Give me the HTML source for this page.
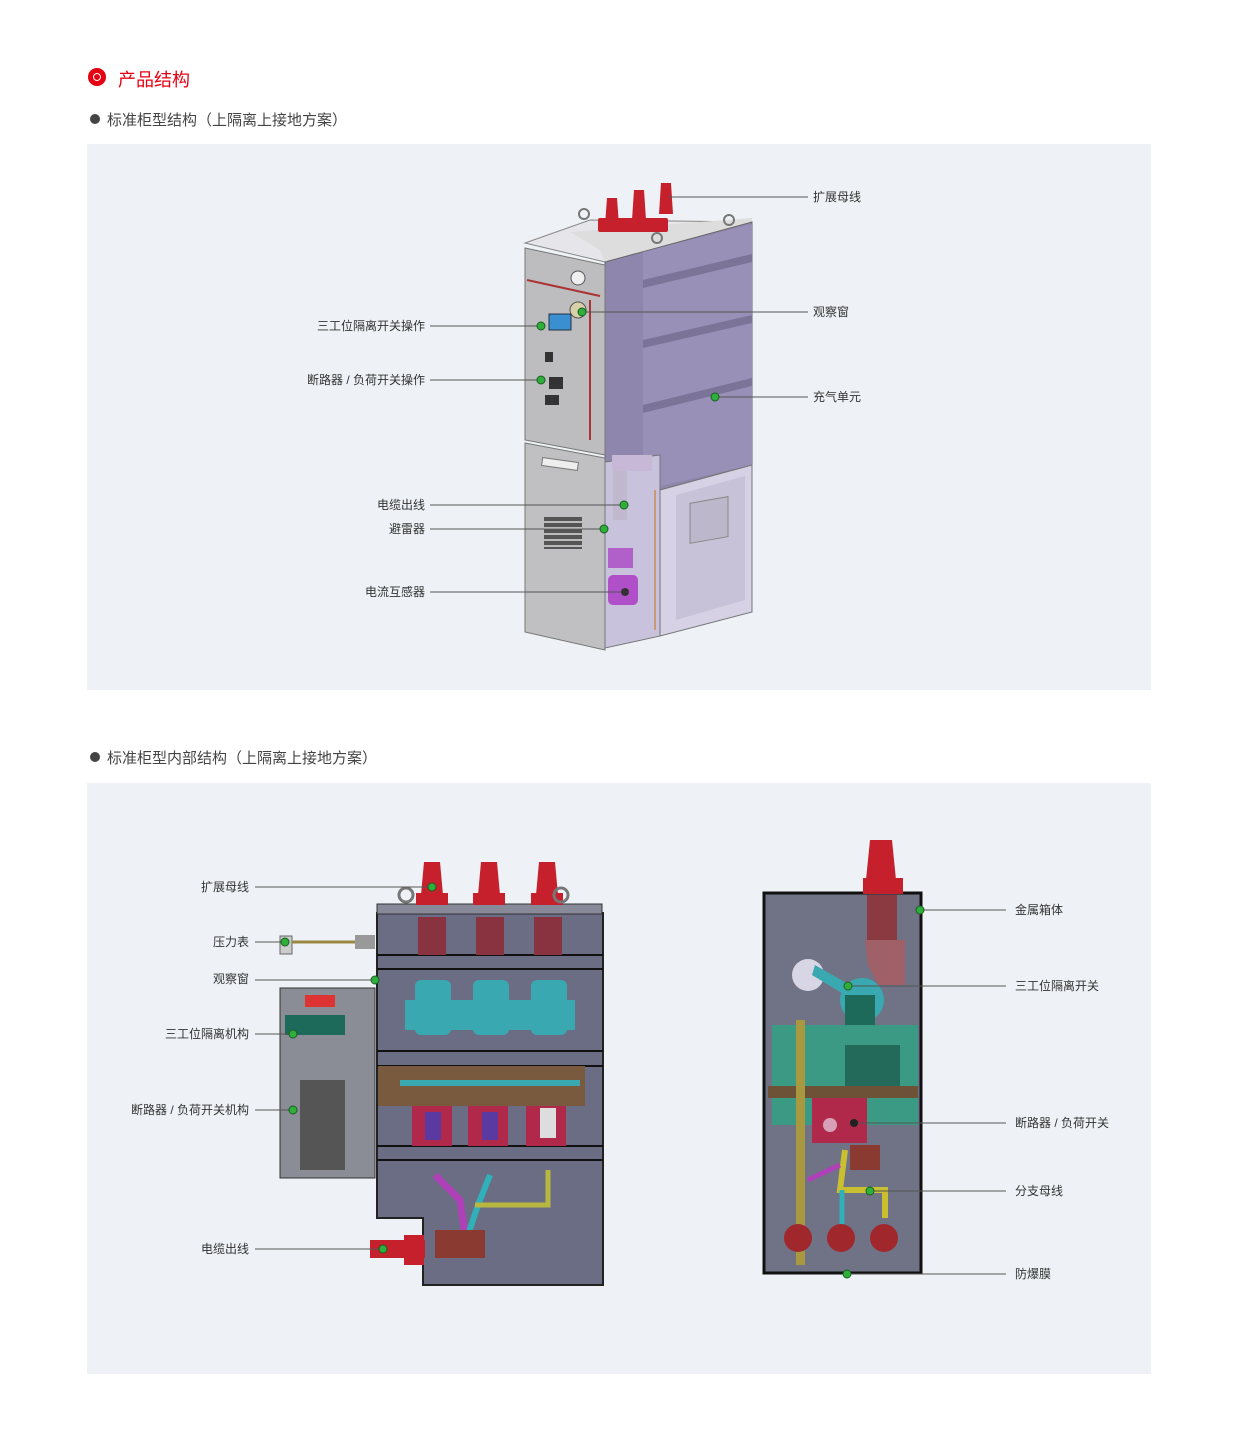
<!DOCTYPE html>
<html><head><meta charset="utf-8"><style>
html,body{margin:0;padding:0;background:#fff;}
body{width:1240px;height:1456px;position:relative;overflow:hidden;font-family:"Liberation Sans","Noto Sans CJK SC",sans-serif;}
.t{position:absolute;white-space:nowrap;}
.panel{position:absolute;background:#eef2f6;}
.lb{position:absolute;font-size:12px;color:#333;white-space:nowrap;line-height:14px;}
svg{position:absolute;left:0;top:0;}
</style></head><body>
<div class="t" style="left:88px;top:68px;width:18px;height:18px;border-radius:50%;background:#e50012;"></div>
<div class="t" style="left:93px;top:73px;width:8px;height:8px;border-radius:50%;border:1.5px solid #fff;box-sizing:border-box;"></div>
<div class="t" style="left:118px;top:66px;font-size:18px;color:#e50012;">产品结构</div>
<div class="t" style="left:90px;top:114px;width:10px;height:10px;border-radius:50%;background:#444;"></div>
<div class="t" style="left:107px;top:109px;font-size:15px;color:#444;">标准柜型结构（上隔离上接地方案）</div>
<div class="panel" style="left:87px;top:144px;width:1064px;height:546px;"></div>
<div class="t" style="left:90px;top:752px;width:10px;height:10px;border-radius:50%;background:#444;"></div>
<div class="t" style="left:107px;top:747px;font-size:15px;color:#444;">标准柜型内部结构（上隔离上接地方案）</div>
<div class="panel" style="left:87px;top:783px;width:1064px;height:591px;"></div>

<svg width="1240" height="1456" viewBox="0 0 1240 1456">
<!-- TOP CABINET -->
<polygon points="525,243 590,220 752,222 605,262" fill="#e6e6ea" stroke="#888" stroke-width="1"/>
<polygon points="570,232 752,218 752,226 605,262 600,250" fill="#ddd" />
<polygon points="605,262 752,222 752,465 660,490 660,455 605,462" fill="#8f86ad" stroke="#666" stroke-width="1"/>
<polygon points="643,252 752,224 752,465 643,490" fill="#9890b6"/>
<polygon points="643,280 752,254 752,262 643,288" fill="#7c7399"/>
<polygon points="643,340 752,315 752,323 643,348" fill="#7c7399"/>
<polygon points="643,405 752,378 752,386 643,413" fill="#7c7399"/>
<polygon points="605,462 660,455 660,636 605,648" fill="#c9c2dc" stroke="#777"/>
<polygon points="660,490 752,465 752,612 660,636" fill="#d6d1e4" stroke="#777"/>
<polygon points="676,495 745,476 745,600 676,620" fill="#c8c2d8"/>
<rect x="690" y="500" width="38" height="40" fill="#bdb7cc" stroke="#888" transform="skewY(-10) translate(0,125)"/>
<polygon points="525,248 605,265 605,455 525,440" fill="#bdbdc0" stroke="#777"/>
<polygon points="525,443 605,458 605,650 525,632" fill="#c0c0c2" stroke="#777"/>
<line x1="527" y1="280" x2="600" y2="296" stroke="#a33" stroke-width="2"/>
<line x1="590" y1="300" x2="590" y2="440" stroke="#a33" stroke-width="2"/>
<circle cx="578" cy="278" r="7" fill="#eee" stroke="#555"/>
<circle cx="578" cy="310" r="8" fill="#d8d0a8" stroke="#555"/>
<rect x="549" y="314" width="22" height="16" fill="#3a8fd0" stroke="#234"/>
<rect x="545" y="352" width="8" height="10" fill="#333"/>
<rect x="549" y="377" width="14" height="12" fill="#333"/>
<rect x="545" y="395" width="14" height="10" fill="#333"/>
<rect x="542" y="460" width="36" height="8" fill="#eee" stroke="#777" transform="rotate(8 560 464)"/>
<rect x="544" y="517" width="38" height="32" fill="#555"/>
<g stroke="#ddd" stroke-width="1.5"><line x1="544" y1="522" x2="582" y2="522"/><line x1="544" y1="528" x2="582" y2="528"/><line x1="544" y1="534" x2="582" y2="534"/><line x1="544" y1="540" x2="582" y2="540"/><line x1="544" y1="546" x2="582" y2="546"/></g>
<rect x="613" y="470" width="14" height="50" fill="#c0b8cc"/>
<rect x="612" y="455" width="40" height="16" fill="#c8b8d8"/>
<rect x="608" y="575" width="30" height="30" fill="#b050c8" rx="5"/>
<rect x="608" y="548" width="25" height="20" fill="#b060c8"/>
<line x1="655" y1="490" x2="655" y2="630" stroke="#c97" stroke-width="2"/>
<!-- insulators -->
<g fill="#c6202c"><rect x="598" y="218" width="70" height="14" rx="2"/>
<polygon points="607,198 617,198 619,225 605,225"/><polygon points="634,190 644,190 646,220 632,220"/><polygon points="661,183 671,183 673,214 659,214"/></g>
<circle cx="584" cy="214" r="5" fill="none" stroke="#777" stroke-width="2"/>
<circle cx="729" cy="220" r="5" fill="none" stroke="#777" stroke-width="2"/>
<circle cx="657" cy="238" r="5" fill="none" stroke="#777" stroke-width="2"/>
<!-- leader lines top -->
<g stroke="#555" stroke-width="1">
<line x1="668" y1="197" x2="808" y2="197"/>
<line x1="582" y1="312" x2="808" y2="312"/>
<line x1="715" y1="397" x2="808" y2="397"/>
<line x1="430" y1="326" x2="541" y2="326"/>
<line x1="430" y1="380" x2="541" y2="380"/>
<line x1="430" y1="505" x2="624" y2="505"/>
<line x1="430" y1="529" x2="604" y2="529"/>
<line x1="430" y1="592" x2="625" y2="592"/>
</g>
<g fill="#2fae3c" stroke="#17601f" stroke-width="1">
<circle cx="541" cy="326" r="4"/><circle cx="541" cy="380" r="4"/><circle cx="582" cy="312" r="4"/>
<circle cx="715" cy="397" r="4"/><circle cx="624" cy="505" r="4"/><circle cx="604" cy="529" r="4"/>
</g>
<circle cx="625" cy="592" r="4" fill="#333"/>

<!-- BOTTOM LEFT CABINET -->
<polygon points="377,913 603,913 603,1285 423,1285 423,1218 377,1218" fill="#6b6d84" stroke="#222" stroke-width="2"/>
<rect x="377" y="904" width="225" height="10" fill="#888a9a" stroke="#333"/>
<g stroke="#111" stroke-width="2">
<line x1="377" y1="955" x2="603" y2="955"/><line x1="377" y1="969" x2="603" y2="969"/>
<line x1="377" y1="1051" x2="603" y2="1051"/><line x1="377" y1="1066" x2="603" y2="1066"/>
<line x1="377" y1="1146" x2="603" y2="1146"/><line x1="377" y1="1160" x2="603" y2="1160"/></g>
<g fill="#8a3340"><rect x="418" y="917" width="28" height="38"/><rect x="476" y="917" width="28" height="38"/><rect x="534" y="917" width="28" height="38"/></g>
<g fill="#3aa8b0"><rect x="415" y="980" width="36" height="55" rx="6"/><rect x="473" y="980" width="36" height="55" rx="6"/><rect x="531" y="980" width="36" height="55" rx="6"/>
<rect x="405" y="1000" width="170" height="30"/></g>
<rect x="378" y="1066" width="207" height="40" fill="#7a5a3e"/>
<rect x="400" y="1080" width="180" height="6" fill="#3aa8b0"/>
<g fill="#b0294a"><rect x="412" y="1106" width="40" height="40"/><rect x="468" y="1106" width="40" height="40"/><rect x="526" y="1106" width="40" height="40"/></g>
<g fill="#5a3aa0"><rect x="425" y="1112" width="16" height="28"/><rect x="482" y="1112" width="16" height="28"/></g>
<rect x="540" y="1108" width="16" height="30" fill="#ddd"/>
<polyline points="435,1175 460,1200 465,1235" fill="none" stroke="#b040b8" stroke-width="7"/>
<polyline points="490,1175 478,1205 468,1235" fill="none" stroke="#30b0b8" stroke-width="6"/>
<polyline points="548,1170 548,1205 475,1205" fill="none" stroke="#b8b840" stroke-width="5"/>
<rect x="435" y="1230" width="50" height="28" fill="#8a3a30"/>
<rect x="370" y="1240" width="55" height="18" fill="#c6202c"/>
<rect x="404" y="1235" width="20" height="30" fill="#c6202c"/>
<!-- mechanism -->
<rect x="280" y="988" width="95" height="190" fill="#8a8c96" stroke="#333"/>
<rect x="285" y="1015" width="60" height="20" fill="#1e6a5a"/>
<rect x="305" y="995" width="30" height="12" fill="#d33"/>
<rect x="300" y="1080" width="45" height="90" fill="#555"/>
<rect x="280" y="936" width="12" height="18" fill="#ccc" stroke="#666"/>
<line x1="292" y1="942" x2="355" y2="942" stroke="#9a8840" stroke-width="3"/>
<rect x="355" y="935" width="20" height="14" fill="#999"/>
<g fill="#c6202c"><polygon points="424,862 440,862 443,895 421,895"/><polygon points="481,862 497,862 500,895 478,895"/><polygon points="539,862 555,862 558,895 536,895"/>
<rect x="416" y="893" width="32" height="12"/><rect x="473" y="893" width="32" height="12"/><rect x="531" y="893" width="32" height="12"/></g>
<circle cx="406" cy="895" r="7" fill="none" stroke="#777" stroke-width="3"/>
<circle cx="561" cy="895" r="7" fill="none" stroke="#777" stroke-width="3"/>

<!-- BOTTOM RIGHT CABINET -->
<rect x="764" y="893" width="157" height="380" fill="#707285" stroke="#111" stroke-width="3"/>
<polygon points="870,840 892,840 896,880 866,880" fill="#c6202c"/>
<rect x="863" y="878" width="40" height="16" fill="#c6202c"/>
<rect x="867" y="895" width="30" height="45" fill="#8a3a40"/>
<polygon points="865,940 905,940 905,985 878,985 868,965" fill="#a06068"/>
<circle cx="808" cy="975" r="16" fill="#d8d6e4"/>
<polygon points="815,965 850,985 845,995 812,975" fill="#3aa8b0"/>
<circle cx="862" cy="1000" r="22" fill="#3aa8b0"/>
<rect x="845" y="995" width="30" height="75" fill="#1e6a5a"/>
<rect x="772" y="1025" width="146" height="100" fill="#3a9a84"/>
<rect x="845" y="1045" width="55" height="45" fill="#246a5a"/>
<rect x="768" y="1086" width="150" height="12" fill="#6e5238"/>
<rect x="812" y="1098" width="55" height="45" fill="#b0294a"/>
<circle cx="830" cy="1125" r="7" fill="#d8a0b8"/>
<rect x="850" y="1145" width="30" height="25" fill="#8a3a30"/>
<polyline points="845,1150 840,1190 885,1190 885,1218" fill="none" stroke="#c8c030" stroke-width="6"/>
<line x1="808" y1="1180" x2="840" y2="1165" stroke="#b040b8" stroke-width="5"/>
<line x1="842" y1="1190" x2="842" y2="1225" stroke="#30b0b8" stroke-width="5"/>
<rect x="796" y="1020" width="9" height="245" fill="#a89840"/>
<g fill="#a0282c"><circle cx="798" cy="1238" r="14"/><circle cx="841" cy="1238" r="14"/><circle cx="884" cy="1238" r="14"/></g>
<!-- leader lines bottom -->
<g stroke="#555" stroke-width="1">
<line x1="255" y1="887" x2="432" y2="887"/>
<line x1="255" y1="942" x2="285" y2="942"/>
<line x1="255" y1="980" x2="375" y2="980"/>
<line x1="255" y1="1034" x2="293" y2="1034"/>
<line x1="255" y1="1110" x2="293" y2="1110"/>
<line x1="255" y1="1249" x2="383" y2="1249"/>
<line x1="920" y1="910" x2="1006" y2="910"/>
<line x1="848" y1="986" x2="1006" y2="986"/>
<line x1="854" y1="1123" x2="1006" y2="1123"/>
<line x1="870" y1="1191" x2="1006" y2="1191"/>
<line x1="847" y1="1274" x2="1006" y2="1274"/>
</g>
<g fill="#2fae3c" stroke="#17601f" stroke-width="1">
<circle cx="432" cy="887" r="4"/><circle cx="285" cy="942" r="4"/><circle cx="375" cy="980" r="4"/>
<circle cx="293" cy="1034" r="4"/><circle cx="293" cy="1110" r="4"/><circle cx="383" cy="1249" r="4"/>
<circle cx="920" cy="910" r="4"/><circle cx="848" cy="986" r="4"/><circle cx="870" cy="1191" r="4"/><circle cx="847" cy="1274" r="4"/>
</g>
<circle cx="854" cy="1123" r="4" fill="#222"/>
</svg>

<div class="lb" style="left:813px;top:190px;">扩展母线</div>
<div class="lb" style="left:813px;top:305px;">观察窗</div>
<div class="lb" style="left:813px;top:390px;">充气单元</div>
<div class="lb" style="right:815px;top:319px;">三工位隔离开关操作</div>
<div class="lb" style="right:815px;top:373px;">断路器 / 负荷开关操作</div>
<div class="lb" style="right:815px;top:498px;">电缆出线</div>
<div class="lb" style="right:815px;top:522px;">避雷器</div>
<div class="lb" style="right:815px;top:585px;">电流互感器</div>

<div class="lb" style="right:991px;top:880px;">扩展母线</div>
<div class="lb" style="right:991px;top:935px;">压力表</div>
<div class="lb" style="right:991px;top:972px;">观察窗</div>
<div class="lb" style="right:991px;top:1027px;">三工位隔离机构</div>
<div class="lb" style="right:991px;top:1103px;">断路器 / 负荷开关机构</div>
<div class="lb" style="right:991px;top:1242px;">电缆出线</div>
<div class="lb" style="left:1015px;top:903px;">金属箱体</div>
<div class="lb" style="left:1015px;top:979px;">三工位隔离开关</div>
<div class="lb" style="left:1015px;top:1116px;">断路器 / 负荷开关</div>
<div class="lb" style="left:1015px;top:1184px;">分支母线</div>
<div class="lb" style="left:1015px;top:1267px;">防爆膜</div>
</body></html>
